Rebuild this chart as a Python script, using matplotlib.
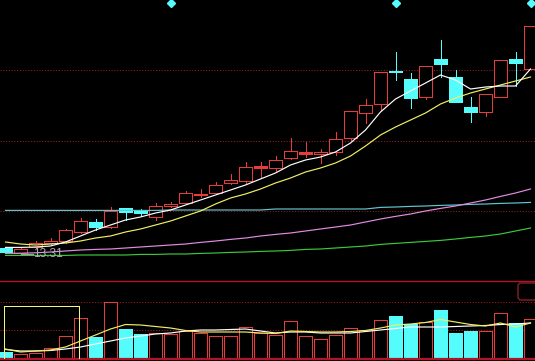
import matplotlib
matplotlib.use("Agg")
import matplotlib.pyplot as plt
from matplotlib.patches import Rectangle, FancyBboxPatch
import numpy as np

# daily candles
opens = [13.61, 13.36, 13.66, 13.86, 13.96, 14.41, 14.91, 14.66, 15.61, 15.42, 15.16, 15.71,
         15.86, 16.26, 16.36, 16.86, 16.96, 17.65, 17.61, 18.11, 18.35, 18.31, 18.41, 19.11,
         20.36, 20.81, 22.46, 22.06, 21.16, 23.06, 22.16, 20.66, 20.41, 21.16, 23.06, 22.56]
highs = [13.66, 13.61, 13.96, 14.11, 14.56, 15.11, 15.06, 15.66, 15.61, 15.56, 15.86, 15.91,
         16.46, 16.56, 16.91, 17.31, 17.91, 17.91, 18.21, 19.11, 18.91, 18.56, 19.41, 20.46,
         21.06, 22.41, 23.41, 22.36, 22.71, 24.01, 22.51, 21.16, 21.31, 23.01, 23.41, 24.71]
lows = [13.36, 13.31, 13.61, 13.81, 13.86, 14.36, 14.51, 14.61, 15.01, 15.21, 15.01, 15.66,
        15.81, 16.16, 16.31, 16.81, 16.86, 17.16, 17.46, 18.06, 18.16, 17.86, 18.26, 19.01,
        19.86, 20.51, 22.01, 20.61, 21.06, 22.16, 20.91, 19.91, 20.21, 21.16, 21.71, 22.56]
closes = [13.41, 13.56, 13.86, 13.96, 14.51, 14.96, 14.66, 15.46, 15.41, 15.41, 15.71, 15.81,
          16.36, 16.31, 16.76, 17.01, 17.66, 17.66, 18.01, 18.46, 18.36, 18.41, 19.06, 20.46,
          20.76, 22.41, 22.41, 21.11, 22.71, 22.81, 20.91, 20.41, 21.31, 23.01, 22.86, 24.71]

# moving averages as shown
ma5 = [13.64, 13.64, 13.66, 13.71, 13.91, 14.21, 14.51, 14.76, 15.01, 15.16, 15.36, 15.51,
       15.76, 16.01, 16.26, 16.51, 16.76, 17.06, 17.36, 17.76, 18.01, 18.16, 18.41, 18.86,
       19.51, 20.41, 21.06, 21.46, 21.86, 22.26, 22.01, 21.56, 21.66, 21.71, 21.71, 22.56]
ma10 = [13.91, 13.81, 13.76, 13.81, 13.86, 13.96, 14.11, 14.21, 14.41, 14.56, 14.76, 14.96,
        15.21, 15.46, 15.81, 16.11, 16.31, 16.56, 16.86, 17.11, 17.41, 17.61, 17.86, 18.21,
        18.71, 19.26, 19.66, 20.01, 20.36, 20.81, 21.11, 21.36, 21.56, 21.76, 21.96, 22.16]
ma30 = [13.34, 13.35, 13.37, 13.41, 13.46, 13.51, 13.54, 13.56, 13.61, 13.66, 13.71, 13.76,
        13.81, 13.89, 13.96, 14.04, 14.11, 14.21, 14.29, 14.36, 14.46, 14.56, 14.66, 14.76,
        14.91, 15.06, 15.19, 15.31, 15.46, 15.59, 15.71, 15.86, 16.01, 16.19, 16.36, 16.56]
ma60 = [13.24, 13.24, 13.24, 13.24, 13.24, 13.26, 13.26, 13.26, 13.26, 13.29, 13.29, 13.31,
        13.31, 13.34, 13.36, 13.39, 13.41, 13.44, 13.46, 13.49, 13.54, 13.56, 13.61, 13.66,
        13.71, 13.79, 13.84, 13.89, 13.94, 13.99, 14.06, 14.14, 14.21, 14.31, 14.46, 14.61]
ma120 = [15.49, 15.49, 15.49, 15.49, 15.49, 15.49, 15.49, 15.49, 15.49, 15.49, 15.49, 15.51,
         15.51, 15.51, 15.51, 15.51, 15.51, 15.51, 15.56, 15.56, 15.56, 15.56, 15.56, 15.56,
         15.56, 15.64, 15.66, 15.69, 15.71, 15.74, 15.76, 15.79, 15.81, 15.84, 15.86, 15.89]

volume = [6500, 4500, 5500, 10500, 22500, 40500, 21500, 56500, 29500, 24500, 25500, 24500,
          27500, 25500, 22500, 22500, 31500, 25500, 23500, 37500, 22500, 19500, 23500, 30500,
          28500, 38500, 42500, 34500, 36500, 48500, 25500, 27500, 27500, 45500, 35500, 39500]
vol_ma5 = [9500, 6500, 7500, 8500, 11500, 17500, 23500, 29500, 34000, 33500, 32000, 30500,
           28000, 26500, 26500, 26500, 26500, 25500, 25000, 27500, 27000, 26500, 26500, 27000,
           28000, 30500, 33500, 34500, 36000, 39000, 36500, 34000, 32500, 35500, 31500, 35500]
vol_ma10 = [9000, 7500, 7500, 8000, 9500, 11500, 14500, 17500, 20500, 22500, 24500, 25500,
            27500, 28500, 28500, 29000, 29500, 27500, 25500, 26500, 26500, 25500, 25500, 25500,
            27000, 28500, 30000, 31500, 31500, 31500, 32000, 32500, 33000, 34000, 34500, 35500]

signal_idx = [11, 26, 35]

RED = "#e83c3c"
CYAN = "#54fcfc"
GRID = "#8c1e1e"
SEP = "#b0142a"
PX = 0.72  # one pixel in points

W, H = 535, 361
fig = plt.figure(figsize=(W / 100, H / 100), dpi=100, facecolor="black")
ax = fig.add_axes([0, 80 / H, 1, 281 / H])
axv = fig.add_axes([0, 2.5 / H, 1, 77.5 / H])
for a in (ax, axv):
    a.set_facecolor("black")
    a.set_xlim(-0.367, 35.3)
    a.set_xticks([])
    a.set_yticks([])
    for s in a.spines.values():
        s.set_visible(False)
ax.set_ylim(11.96, 26.01)
axv.set_ylim(0, 77500)
axv.spines["top"].set_visible(True)
axv.spines["top"].set_color(SEP)
axv.spines["top"].set_linewidth(1.0)
axv.spines["bottom"].set_visible(True)
axv.spines["bottom"].set_color(SEP)
axv.spines["bottom"].set_linewidth(1.6)

# dotted grid
y0, y1 = ax.get_ylim()
for k in (1, 2, 3):
    ax.axhline(y0 + (y1 - y0) * k / 4, color=GRID, lw=0.8, ls=(0, (1, 1.5)), zorder=1)
for lev in (max(volume), max(volume) / 2):
    axv.axhline(lev, color=GRID, lw=0.8, ls=(0, (1, 1.5)), zorder=1)

x = np.arange(len(closes))
bw = 0.82
for i in x:
    o, h, l, c = opens[i], highs[i], lows[i], closes[i]
    up = c >= o
    col = RED if up else CYAN
    top, bot = max(o, c), min(o, c)
    ax.vlines(i, top, h, color=col, lw=PX, antialiased=False, zorder=2)
    ax.vlines(i, l, bot, color=col, lw=PX, antialiased=False, zorder=2)
    if top - bot < 0.03:
        ax.hlines(top, i - bw / 2, i + bw / 2, color=col, lw=1.0, antialiased=False, zorder=2)
    else:
        ax.add_patch(Rectangle((i - bw / 2, bot), bw, top - bot,
                               facecolor="black" if up else col,
                               edgecolor=col, lw=PX, antialiased=False, zorder=2))

ax.plot(x, ma120, color="#5fc8d2", lw=0.85, zorder=3)
ax.plot(x, ma60, color="#3cc83c", lw=0.85, zorder=3)
ax.plot(x, ma30, color="#e28ce2", lw=0.85, zorder=3)
ax.plot(x, ma10, color="#f0f064", lw=0.85, zorder=3)
ax.plot(x, ma5, color="white", lw=0.85, zorder=3)

# lowest price marker
imin = int(np.argmin(lows))
ax.plot([imin, imin + 0.8], [lows[imin], lows[imin]], color="#a0a0a0", lw=0.9, zorder=4)
ax.text(imin + 0.85, lows[imin], f"{lows[imin]:.2f}", color="#b0b0b0", fontsize=8.6,
        family=["Liberation Sans", "DejaVu Sans"], va="center", ha="left", zorder=4)

# signal diamonds
ax.plot(signal_idx, [25.88] * len(signal_idx), "D", color=CYAN, ms=4.2,
        mec=CYAN, zorder=4, clip_on=False)

# volume bars
ups = [c >= o for o, c in zip(opens, closes)]
axv.bar(x, volume, width=bw,
        color=["black" if u else CYAN for u in ups],
        edgecolor=[RED if u else CYAN for u in ups], lw=PX, antialiased=False, zorder=2)
axv.plot(x, vol_ma10, color="white", lw=0.85, zorder=3)
axv.plot(x, vol_ma5, color="#f0f064", lw=0.85, zorder=3)
axv.add_patch(Rectangle((-0.1, 0), 5.0, 52500, fill=False, edgecolor="#f5f57a",
                        lw=PX, antialiased=False, zorder=4))

fig.patches.append(FancyBboxPatch((518, 61), 24, 17, boxstyle="round,pad=0,rounding_size=3",
                                  transform=None, fill=False, edgecolor="#8c1e2a", lw=1.0))

fig.savefig("out.png", dpi=100, facecolor="black")
